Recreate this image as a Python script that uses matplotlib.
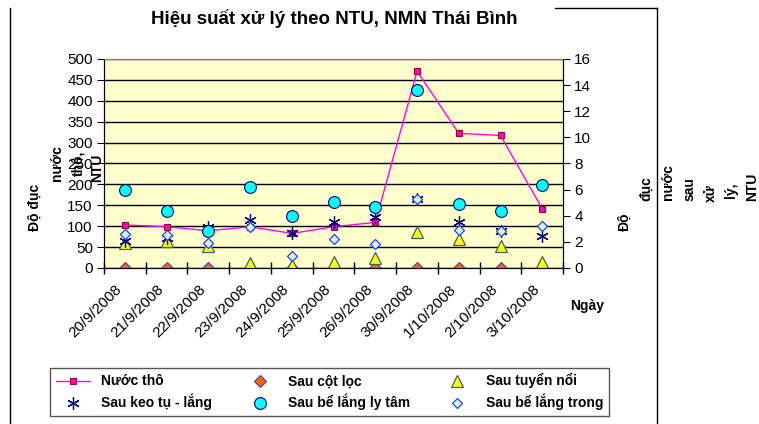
import matplotlib.pyplot as plt
from matplotlib.lines import Line2D

plt.rcParams['font.family'] = ['Liberation Sans', 'DejaVu Sans']

# data
dates = ["20/9/2008", "21/9/2008", "22/9/2008", "23/9/2008", "24/9/2008", "25/9/2008",
         "26/9/2008", "30/9/2008", "1/10/2008", "2/10/2008", "3/10/2008"]
nuoc_tho = [103, 98.6, 89, 98.6, 82.7, 98.6, 109, 470.6, 322, 317, 141.5]          # left axis
sau_cot_loc = [0, 0, 0, 0, 0, 0, 0, 0, 0, 0, 0]                                    # right axis
sau_tuyen_noi = [1.91, 2.09, 1.65, 0.38, 0.23, 0.48, 0.74, 2.77, 2.21, 1.65, 0.43]
sau_keo_tu = [2.09, 2.26, 3.1, 3.66, 2.65, 3.54, 3.87, 5.27, 3.49, 2.8, 2.42]
sau_ly_tam = [5.95, 4.35, 2.85, 6.2, 3.94, 5.06, 4.7, 13.6, 4.86, 4.35, 6.33]
sau_lang_trong = [2.6, 2.49, 1.91, 3.1, 0.89, 2.24, 1.86, 5.27, 2.93, 2.85, 3.2]

left_ticks = [0, 50, 100, 150, 200, 250, 300, 350, 400, 450, 500]
right_ticks = [0, 2, 4, 6, 8, 10, 12, 14, 16]

fig = plt.figure(figsize=(7.59, 4.24), dpi=100)
ax = fig.add_axes([0.137, 0.368, 0.605, 0.493])
ax2 = ax.twinx()
ax.set_zorder(1)
ax2.set_zorder(2)
ax.set_facecolor('#FFFFCC')
ax2.patch.set_visible(False)

x = list(range(len(dates)))

h1, = ax.plot(x, nuoc_tho, color='#FF00FF', lw=1, marker='s', ms=4.5,
              mfc='#FF00CC', mec='#990033', mew=0.8, label='Nước thô', zorder=5)
h2, = ax2.plot(x, sau_cot_loc, ls='none', marker='D', ms=6.5, mfc='#FF6600',
               mec='#3333FF', mew=0.8, label='Sau cột lọc')
h3, = ax2.plot(x, sau_tuyen_noi, ls='none', marker='^', ms=8, mfc='#FFFF00',
               mec='#336666', mew=0.9, label='Sau tuyển nổi')
h4, = ax2.plot(x, sau_keo_tu, ls='none', marker=(6, 2, 0), ms=9, mfc='none',
               mec='#000080', mew=0.9, label='Sau keo tụ - lắng')
h5, = ax2.plot(x, sau_ly_tam, ls='none', marker='o', ms=8.5, mfc='#00FFFF',
               mec='#000080', mew=0.8, label='Sau bể lắng ly tâm')
h6, = ax2.plot(x, sau_lang_trong, ls='none', marker='D', ms=5, mfc='#CCFFFF',
               mec='#3333FF', mew=0.9, label='Sau bể lắng trong')

ax.set_xlim(-0.5, len(dates) - 0.5)
ax.set_ylim(0, 500)
ax2.set_ylim(0, 16)
ax.set_yticks(left_ticks)
ax2.set_yticks(right_ticks)
ax.yaxis.grid(True, color='black', lw=1)
ax.set_axisbelow(True)

ax.set_xticks(x)
ax.set_xticklabels(dates, rotation=45, ha='right', va='top', fontsize=11)
ax.set_xticks([i - 0.5 for i in range(len(dates) + 1)], minor=True)
ax.tick_params(axis='x', which='major', length=0, pad=10)
ax.tick_params(axis='x', which='minor', length=8, direction='inout', width=1)
ax.tick_params(axis='y', direction='out', length=5, labelsize=11, pad=3)
ax2.tick_params(axis='y', direction='out', length=5, labelsize=11, pad=3)

for sp in ['left', 'bottom', 'right']:
    ax.spines[sp].set_color('black')
    ax2.spines[sp].set_color('black')
ax.spines['top'].set_color('#808080')
ax2.spines['top'].set_color('#808080')

fig.text(0.44, 0.957, 'Hiệu suất xử lý theo NTU, NMN Thái Bình',
         ha='center', va='center', fontsize=13.5, fontweight='bold')

# left axis title (overlapping words as in the source chart)
fig.text(35 / 759, 1 - 207 / 424, 'Độ đục', rotation=90, ha='center', va='center',
         fontsize=10, fontweight='bold')
fig.text(57 / 759, 1 - 163 / 424, 'nước', rotation=90, ha='center', va='center',
         fontsize=10, fontweight='bold')
fig.text(78 / 759, 1 - 163 / 424, 'thô,', rotation=90, ha='center', va='center',
         fontsize=10, fontweight='bold')
fig.text(97 / 759, 1 - 168 / 424, 'NTU', rotation=90, ha='center', va='center',
         fontsize=10, fontweight='bold')

# right axis title, word by word
right_words = ['Độ', 'đục', 'nước', 'sau', 'xử', 'lý,', 'NTU']
right_x = [625, 646, 668, 690, 711, 731, 752]
right_y = [222, 189, 182, 189, 193, 190, 187]
for w, px, py in zip(right_words, right_x, right_y):
    fig.text(px / 759, 1 - py / 424, w, rotation=90, ha='center', va='center',
             fontsize=10, fontweight='bold')

fig.text(587 / 759, 1 - 306 / 424, 'Ngày', ha='center', va='center',
         fontsize=10, fontweight='bold')

leg = fig.legend([h1, h4, h2, h5, h3, h6],
                 [h.get_label() for h in [h1, h4, h2, h5, h3, h6]],
                 ncol=3, loc='lower left', mode='expand',
                 bbox_to_anchor=(50 / 759, 8 / 424, 559 / 759, 53 / 424),
                 prop={'weight': 'bold', 'size': 10}, frameon=True, fancybox=False,
                 edgecolor='#555555', framealpha=1, borderaxespad=0,
                 handlelength=2.5, labelspacing=0.4, columnspacing=1.0)
leg.get_frame().set_linewidth(1)

# chart border pieces
fig.add_artist(Line2D([10 / 759, 10 / 759], [0, 1 - 8 / 424], color='black', lw=1))
fig.add_artist(Line2D([657 / 759, 657 / 759], [0, 1 - 8 / 424], color='black', lw=1))
fig.add_artist(Line2D([555 / 759, 657 / 759], [1 - 8 / 424, 1 - 8 / 424], color='black', lw=1))

fig.savefig('out.png', dpi=100)
